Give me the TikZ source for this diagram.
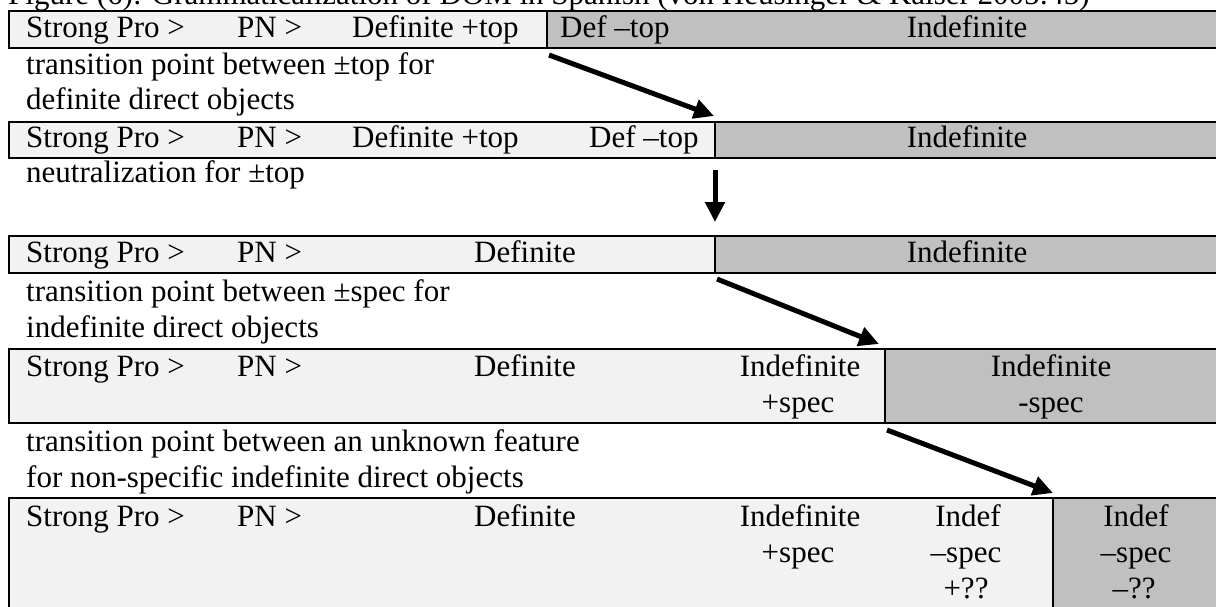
\documentclass[tikz,border=0pt]{standalone}
\usepackage{fontspec}
\setmainfont{Liberation Serif}
\usetikzlibrary{arrows.meta}
\definecolor{lightcell}{HTML}{F2F2F2}
\definecolor{darkcell}{HTML}{C0C0C0}
\begin{document}
\begin{tikzpicture}[x=1pt,y=-1pt,
  txt/.style={inner sep=0pt, anchor=base west, font=\fontsize{31}{35.5}\selectfont},
  ctxt/.style={txt, anchor=base},
  lightcellbox/.style={fill=lightcell, draw=black, line width=1.8pt},
  darkcellbox/.style={fill=darkcell, draw=black, line width=1.8pt},
  bigarrow/.style={line width=5pt, -{Triangle[length=20pt,width=19pt]}},
]
\clip (0,0) rectangle (1216,606);
% title (cut off at the top)
\node[txt] (title) at (8,4) {Figure (6): Grammaticalization of DOM in Spanish (von Heusinger \& Kaiser 2005:45)};

% row 1
\draw[lightcellbox] (9,11) rectangle (547,48);
\draw[darkcellbox] (547,11) rectangle (1240,48);
\node[txt] (r1a) at (26,37) {Strong Pro >};
\node[txt] (r1b) at (237,37) {PN >};
\node[txt] (r1c) at (352,37) {Definite +top};
\node[txt] (r1d) at (560,37) {Def –top};
\node[ctxt] (r1e) at (967,37) {Indefinite};
\node[txt] (t1a) at (26,74) {transition point between ±top for};
\node[txt] (t1b) at (26,109) {definite direct objects};

% row 2
\draw[lightcellbox] (9,122) rectangle (715,158);
\draw[darkcellbox] (715,122) rectangle (1240,158);
\node[txt] (r2a) at (26,147) {Strong Pro >};
\node[txt] (r2b) at (237,147) {PN >};
\node[txt] (r2c) at (352,147) {Definite +top};
\node[txt] (r2d) at (589,147) {Def –top};
\node[ctxt] (r2e) at (967,147) {Indefinite};
\node[txt] (t2a) at (26,182) {neutralization for ±top};

% row 3
\draw[lightcellbox] (9,236) rectangle (715,273);
\draw[darkcellbox] (715,236) rectangle (1240,273);
\node[txt] (r3a) at (26,262) {Strong Pro >};
\node[txt] (r3b) at (237,262) {PN >};
\node[txt] (r3c) at (474,262) {Definite};
\node[ctxt] (r3e) at (967,262) {Indefinite};
\node[txt] (t3a) at (26,301) {transition point between ±spec for};
\node[txt] (t3b) at (26,337) {indefinite direct objects};

% row 4
\draw[lightcellbox] (9,349) rectangle (885,423);
\draw[darkcellbox] (885,349) rectangle (1240,423);
\node[txt] (r4a) at (26,376) {Strong Pro >};
\node[txt] (r4b) at (237,376) {PN >};
\node[txt] (r4c) at (474,376) {Definite};
\node[ctxt] (r4d) at (800,376) {Indefinite};
\node[ctxt] (r4e) at (798,412) {+spec};
\node[ctxt] (r4f) at (1051,376) {Indefinite};
\node[ctxt] (r4g) at (1051,412) {-spec};
\node[txt] (t4a) at (26,451) {transition point between an unknown feature};
\node[txt] (t4b) at (26,487) {for non-specific indefinite direct objects};

% row 5
\draw[lightcellbox] (9,498) rectangle (1053,650);
\draw[darkcellbox] (1053,498) rectangle (1240,650);
\node[txt] (r5a) at (26,526) {Strong Pro >};
\node[txt] (r5b) at (237,526) {PN >};
\node[txt] (r5c) at (474,526) {Definite};
\node[ctxt] (r5d) at (800,526) {Indefinite};
\node[ctxt] (r5e) at (798,562) {+spec};
\node[ctxt] (r5f) at (968,526) {Indef};
\node[ctxt] (r5g) at (966,562) {–spec};
\node[ctxt] (r5h) at (966,598) {+??};
\node[ctxt] (r5i) at (1136,526) {Indef};
\node[ctxt] (r5j) at (1136,562) {–spec};
\node[ctxt] (r5k) at (1134,598) {–??};

% arrows
\coordinate (a1s) at (549,55);
\coordinate (a1e) at (714,116);
\coordinate (a2s) at (715,170);
\coordinate (a2e) at (715,222);
\coordinate (a3s) at (717,279);
\coordinate (a3e) at (879,344);
\coordinate (a4s) at (887,430);
\coordinate (a4e) at (1053,493);
\draw[bigarrow] (a1s) -- (a1e);
\draw[bigarrow] (a2s) -- (a2e);
\draw[bigarrow] (a3s) -- (a3e);
\draw[bigarrow] (a4s) -- (a4e);
\end{tikzpicture}
\end{document}
